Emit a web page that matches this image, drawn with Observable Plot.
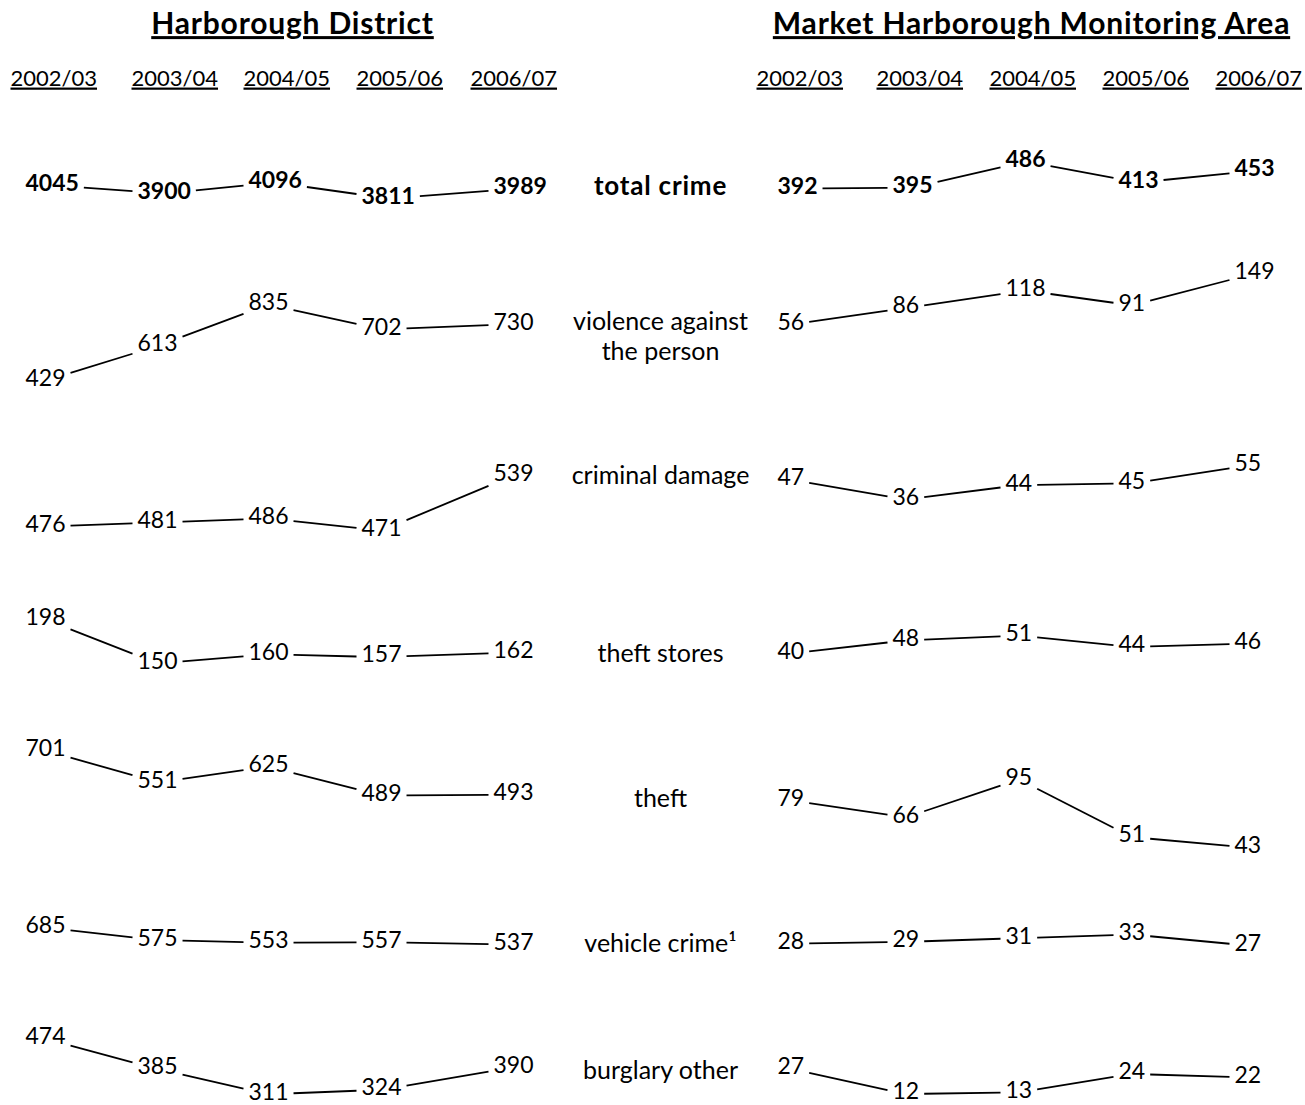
<!DOCTYPE html>
<html><head><meta charset="utf-8">
<script src="https://cdn.jsdelivr.net/npm/d3@7"></script>
<script src="https://cdn.jsdelivr.net/npm/@observablehq/plot@0.6"></script>
<style>
html,body{margin:0;padding:0;background:#fff;}
g[aria-description="underlined"] text { text-decoration: underline; }
g[aria-description="title"] text { text-decoration: underline; letter-spacing: 0.8px; }
g[aria-description="bold-label"] text { letter-spacing: 0.8px; }
</style></head><body><div id="chart"></div>
<script>
// ---- data ----
const years = ["2002/03", "2003/04", "2004/05", "2005/06", "2006/07"];
const panels = ["Harborough District", "Market Harborough Monitoring Area"];
const categories = ["total crime", "violence against\nthe person", "criminal damage", "theft stores", "theft", "vehicle crime\u00b9", "burglary other"];

const districtTotalCrime = [4045, 3900, 4096, 3811, 3989];
const districtViolence   = [429, 613, 835, 702, 730];
const districtDamage     = [476, 481, 486, 471, 539];
const districtTheftStores= [198, 150, 160, 157, 162];
const districtTheft      = [701, 551, 625, 489, 493];
const districtVehicle    = [685, 575, 553, 557, 537];
const districtBurglary   = [474, 385, 311, 324, 390];

const marketTotalCrime   = [392, 395, 486, 413, 453];
const marketViolence     = [56, 86, 118, 91, 149];
const marketDamage       = [47, 36, 44, 45, 55];
const marketTheftStores  = [40, 48, 51, 44, 46];
const marketTheft        = [79, 66, 95, 51, 43];
const marketVehicle      = [28, 29, 31, 33, 27];
const marketBurglary     = [27, 12, 13, 24, 22];

const panelSeries = [
  [districtTotalCrime, districtViolence, districtDamage, districtTheftStores, districtTheft, districtVehicle, districtBurglary],
  [marketTotalCrime, marketViolence, marketDamage, marketTheftStores, marketTheft, marketVehicle, marketBurglary]
];

// ---- layout ----
const W = 1305, H = 1105;
const FONT = "Lato";
const NUM_SIZE = 23;
const colX = [[25, 137, 248, 361, 493], [777, 892, 1005, 1118, 1234]];
const headerX = [[10, 131, 243, 356, 470], [756, 876, 989, 1102, 1215]];
const panelTitleX = [292, 1031];
const labelX = 660;
const rowLabelY = [186, 335, 474, 652, 797, 942, 1069];
const rowBase = [[188, 340, 500.5, 639, 770.5, 933.5, 1064], [172.5, 296.5, 480, 642, 811, 937.5, 1079]];
const rowSpread = [[0.056, 0.187, 0.81, 0.917, 0.212, 0.115, 0.34], [0.287, 0.548, 1.79, 1.64, 1.31, 1.83, 1.67]];

const ctx = document.createElement("canvas").getContext("2d");
function textWidth(s, bold) {
  ctx.font = `${bold ? "bold " : ""}${NUM_SIZE}px ${FONT}`;
  return ctx.measureText(s).width;
}

const points = [];
const segments = [];
panelSeries.forEach((rows, p) => {
  rows.forEach((vals, r) => {
    const mid = (d3.min(vals) + d3.max(vals)) / 2;
    const bold = r === 0;
    const pts = vals.map((v, i) => {
      const label = String(v);
      const w = textWidth(label, bold);
      const x = colX[p][i];
      const y = rowBase[p][r] - (v - mid) * rowSpread[p][r];
      return {panel: p, row: r, year: years[i], value: v, label, bold, x, y, w, cx: x + w / 2};
    });
    points.push(...pts);
    for (let i = 0; i < pts.length - 1; i++) {
      const a = pts[i], b = pts[i + 1];
      const gap = 5, off = 2;
      const x1 = a.x + a.w + gap, x2 = b.x - gap;
      const slope = (b.y - a.y) / (b.cx - a.cx);
      segments.push({
        x1, x2,
        y1: a.y + off + slope * (x1 - a.cx),
        y2: a.y + off + slope * (x2 - a.cx)
      });
    }
  });
});

const titles = panels.map((t, p) => ({text: t, x: panelTitleX[p], y: 24}));
const yearHeaders = [];
headerX.forEach((xs, p) => xs.forEach((x, i) => yearHeaders.push({text: years[i], x, y: 78})));
const catLabels = categories.map((c, r) => ({text: c, x: labelX, y: rowLabelY[r], bold: r === 0}));

const chart = Plot.plot({
  width: W, height: H, margin: 0,
  style: {fontFamily: FONT, background: "white", color: "black"},
  x: {domain: [0, W], range: [0, W], axis: null},
  y: {domain: [0, H], range: [0, H], axis: null},
  marks: [
    Plot.link(segments, {x1: "x1", y1: "y1", x2: "x2", y2: "y2", stroke: "black", strokeWidth: 1.8}),
    Plot.text(points.filter(d => d.bold), {x: "x", y: "y", text: "label", textAnchor: "start", lineAnchor: "middle", fontSize: NUM_SIZE, fontWeight: "bold", fontFamily: FONT, fill: "black"}),
    Plot.text(points.filter(d => !d.bold), {x: "x", y: "y", text: "label", textAnchor: "start", lineAnchor: "middle", fontSize: NUM_SIZE, fontFamily: FONT, fill: "black"}),
    Plot.text(catLabels.filter(d => d.bold), {x: "x", y: "y", text: "text", textAnchor: "middle", lineAnchor: "middle", fontSize: 26, fontWeight: "bold", fontFamily: FONT, fill: "black", ariaDescription: "bold-label"}),
    Plot.text(catLabels.filter(d => !d.bold), {x: "x", y: "y", text: "text", textAnchor: "middle", lineAnchor: "middle", lineHeight: 1.2, fontSize: 25, fontFamily: FONT, fill: "black"}),
    Plot.text(titles, {x: "x", y: "y", text: "text", textAnchor: "middle", lineAnchor: "middle", fontSize: 30, fontWeight: "bold", fontFamily: FONT, fill: "black", ariaDescription: "title"}),
    Plot.text(yearHeaders, {x: "x", y: "y", text: "text", textAnchor: "start", lineAnchor: "middle", fontSize: 22, fontFamily: FONT, fill: "black", ariaDescription: "underlined"})
  ]
});
document.getElementById("chart").appendChild(chart);
</script></body></html>
